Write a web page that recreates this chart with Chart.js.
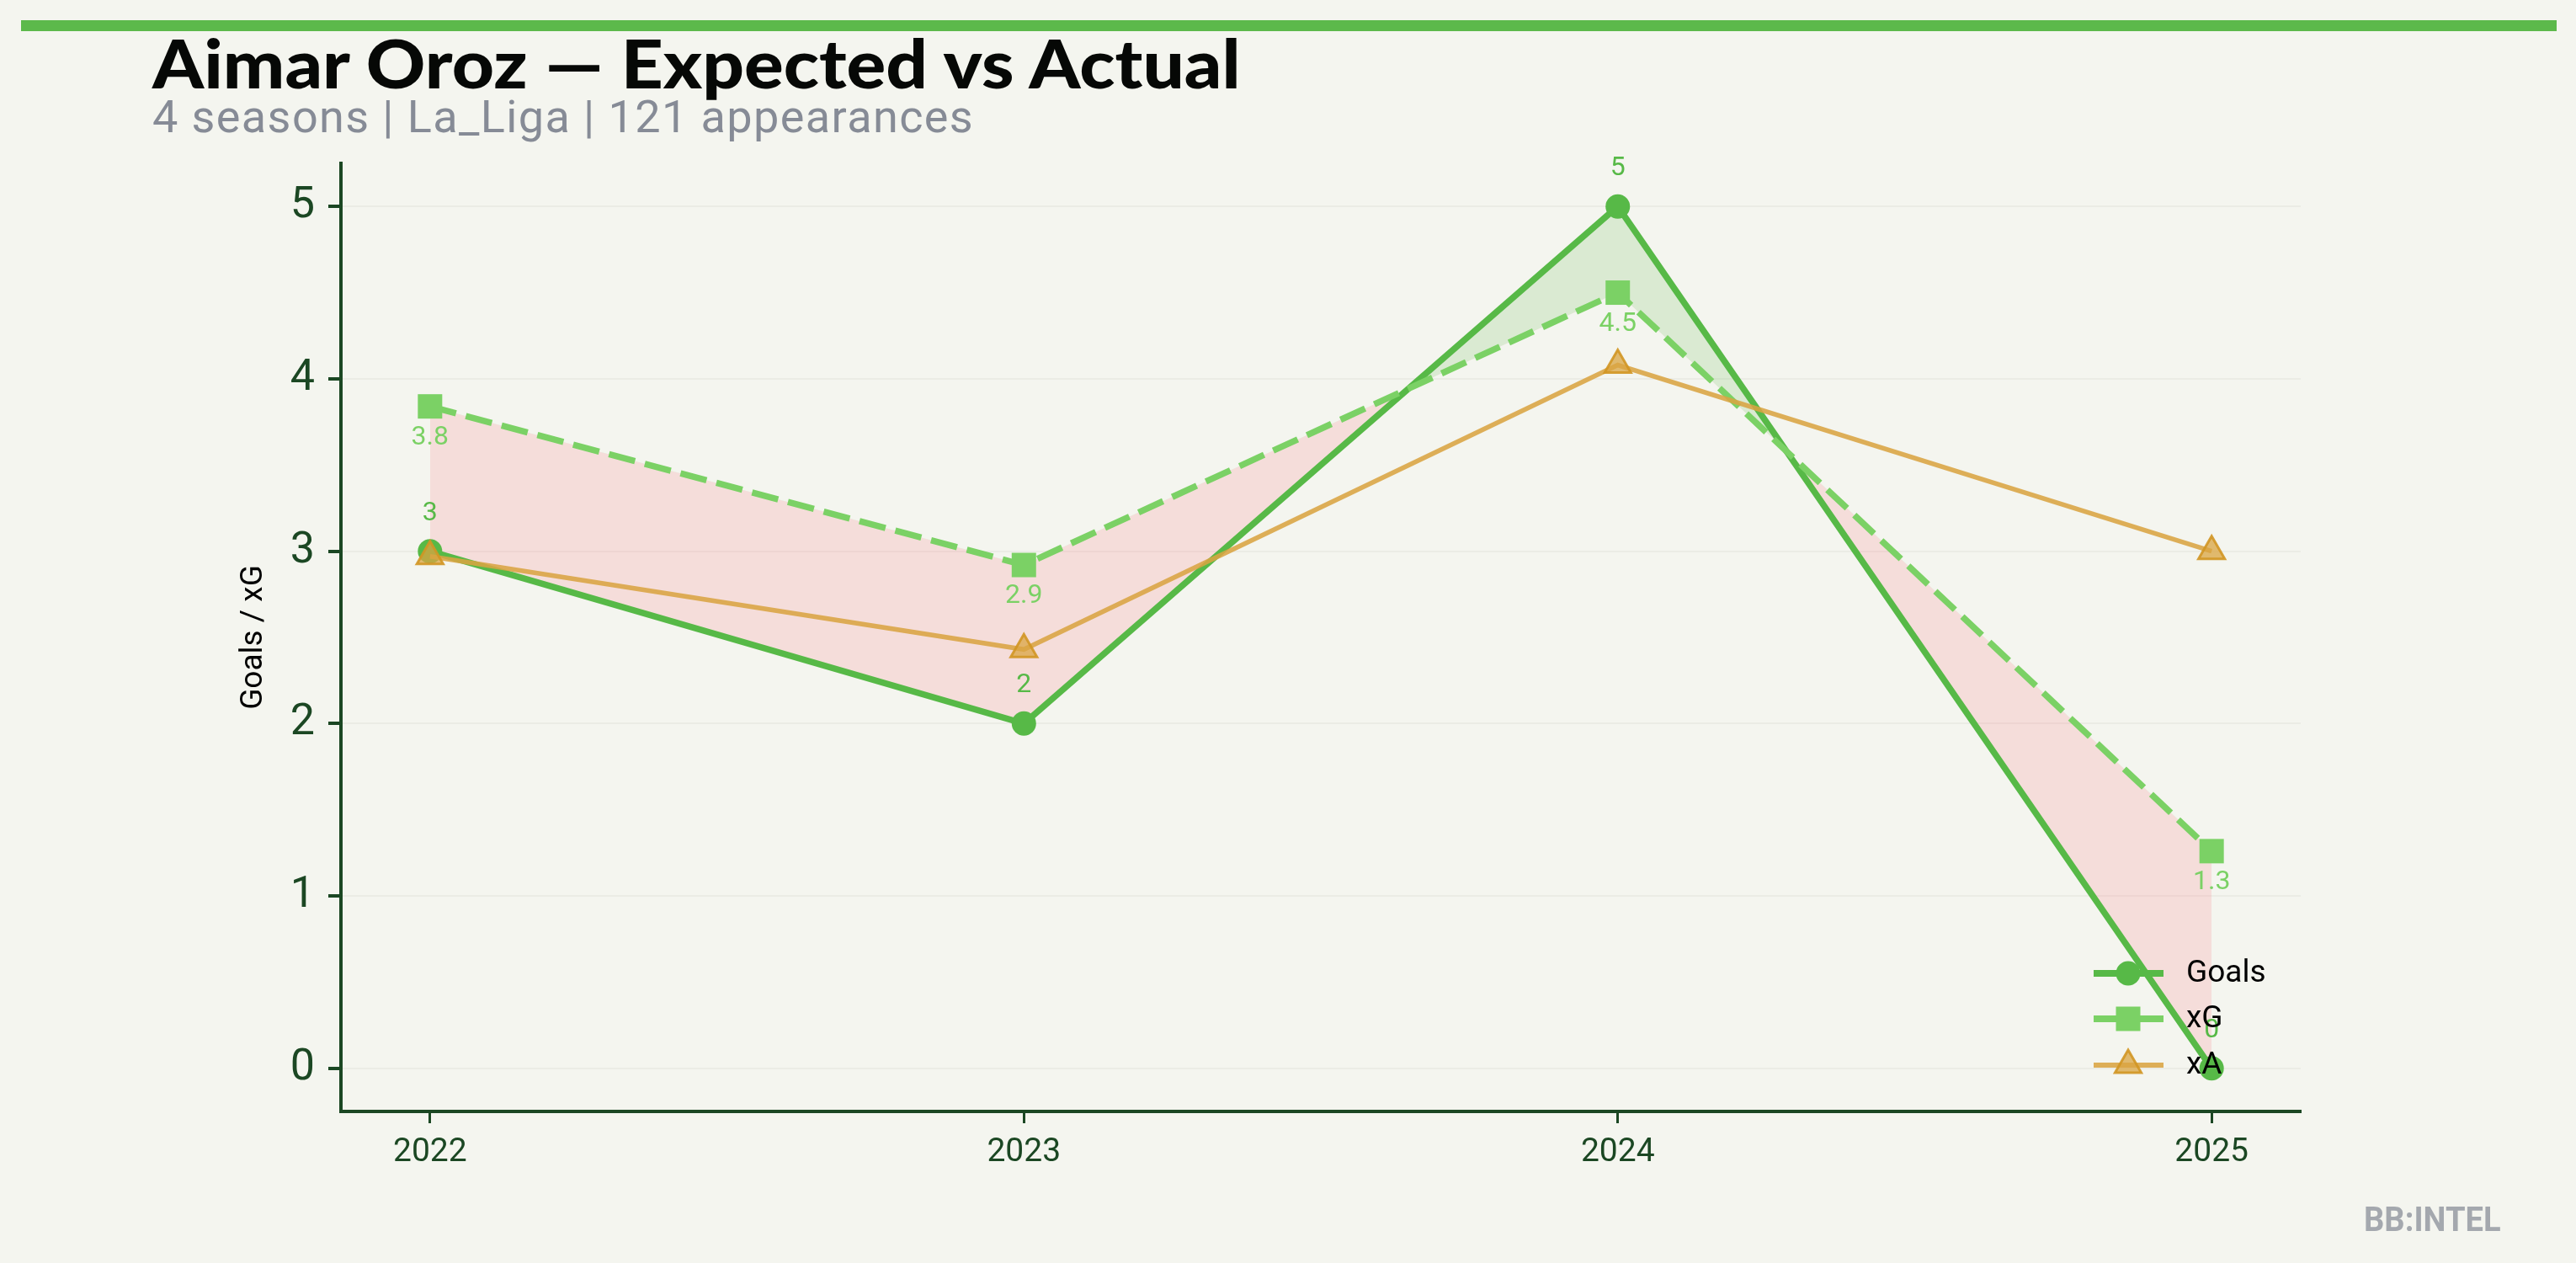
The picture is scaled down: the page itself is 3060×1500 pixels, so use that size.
<!DOCTYPE html>
<html>
<head>
<meta charset="utf-8">
<script src="https://cdn.jsdelivr.net/npm/chart.js@4.4.1/dist/chart.umd.min.js"></script>
<style>
  html, body { margin: 0; padding: 0; background: #f4f5ef; }
  #wrap { position: relative; width: 3060px; height: 1500px; overflow: hidden; }
  #bar { position: absolute; left: 25px; top: 24px; width: 3012px; height: 13px; background: #5cb94b; }
  #title { position: absolute; left: 181px; top: 34px; font-family: Lato, "Noto Sans", sans-serif; font-weight: 900;
           font-size: 80px; line-height: 80px; color: #060806; white-space: nowrap;
           transform: scaleX(1.09); transform-origin: left top; }
  #subtitle { position: absolute; left: 181px; top: 112px; font-family: Roboto, sans-serif; font-size: 54px;
              line-height: 54px; color: #868b96; white-space: nowrap; letter-spacing: 1.4px; }
  #mark { position: absolute; left: 2808px; top: 1428px; font-family: Roboto, sans-serif; font-weight: 700;
          font-size: 41px; line-height: 41px; color: #a4a8ae; white-space: nowrap;
          transform: scaleX(0.93); transform-origin: left top; }
  canvas { position: absolute; left: 0; top: 0; }
</style>
</head>
<body>
<div id="wrap">
  <canvas id="myChart" width="3060" height="1500"></canvas>
  <div id="bar"></div>
  <div id="title">Aimar Oroz — Expected vs Actual</div>
  <div id="subtitle">4 seasons | La_Liga | 121 appearances</div>
  <div id="mark">BB:INTEL</div>
</div>
<script>
// chart values
var seasons = [2022, 2023, 2024, 2025];
var goals = [3, 2, 5, 0];
var xg = [3.84, 2.92, 4.5, 1.26];
var xa = [2.97, 2.43, 4.08, 3.0];
var yTicks = [0, 1, 2, 3, 4, 5];
var seriesNames = ["Goals", "xG", "xA"];

var dark = '#1b4723';
var goalsColor = '#57b947';
var xgColor = '#7bd165';
var xaLine = 'rgba(217,164,66,0.88)';
var xaFill = 'rgba(217,164,66,0.75)';
var xaEdge = 'rgba(210,150,35,0.9)';

function toPoints(values) {
    var pts = [];
    for (var i = 0; i < seasons.length; i++) {
        pts.push({ x: seasons[i], y: values[i] });
    }
    return pts;
}

// value labels above goals points, below xG points
var valueLabels = {
    id: 'valueLabels',
    afterDatasetsDraw: function (chart) {
        var ctx = chart.ctx;
        ctx.save();
        ctx.font = '32px Roboto';
        ctx.textAlign = 'center';
        ctx.textBaseline = 'middle';
        var gMeta = chart.getDatasetMeta(0);
        gMeta.data.forEach(function (pt, i) {
            ctx.fillStyle = goalsColor;
            ctx.fillText(String(goals[i]), pt.x, pt.y - 45);
        });
        var xMeta = chart.getDatasetMeta(1);
        xMeta.data.forEach(function (pt, i) {
            ctx.fillStyle = xgColor;
            ctx.fillText(xg[i].toFixed(1), pt.x, pt.y + 37);
        });
        ctx.restore();
    }
};

// legend inside the plot, lower right
var innerLegend = {
    id: 'innerLegend',
    afterDraw: function (chart) {
        var ctx = chart.ctx;
        var x0 = 2487, x1 = 2570, mx = 2528, tx = 2597;
        var rows = [1156, 1210, 1265];
        ctx.save();
        for (var i = 0; i < 3; i++) {
            var y = rows[i];
            ctx.setLineDash([]);
            ctx.beginPath();
            ctx.moveTo(x0, y);
            ctx.lineTo(x1, y);
            if (i == 0) { ctx.strokeStyle = goalsColor; ctx.lineWidth = 8; }
            if (i == 1) { ctx.strokeStyle = xgColor; ctx.lineWidth = 8; }
            if (i == 2) { ctx.strokeStyle = xaLine; ctx.lineWidth = 6; }
            ctx.stroke();
            ctx.beginPath();
            if (i == 0) {
                ctx.fillStyle = goalsColor;
                ctx.arc(mx, y, 14.5, 0, Math.PI * 2);
                ctx.fill();
            } else if (i == 1) {
                ctx.fillStyle = xgColor;
                ctx.fillRect(mx - 14.5, y - 14.5, 29, 29);
            } else {
                ctx.fillStyle = xaFill;
                ctx.strokeStyle = xaEdge;
                ctx.lineWidth = 3;
                ctx.moveTo(mx, y - 18);
                ctx.lineTo(mx + 15.6, y + 9);
                ctx.lineTo(mx - 15.6, y + 9);
                ctx.closePath();
                ctx.fill();
                ctx.stroke();
            }
            ctx.fillStyle = '#000';
            ctx.font = '37px Roboto';
            ctx.textAlign = 'left';
            ctx.textBaseline = 'middle';
            ctx.fillText(seriesNames[i], tx, y + 1);
        }
        ctx.restore();
    }
};

var ctx = document.getElementById('myChart');
var myChart = new Chart(ctx, {
    type: 'line',
    data: {
        datasets: [{
            label: seriesNames[0],
            data: toPoints(goals),
            borderColor: goalsColor,
            backgroundColor: goalsColor,
            borderWidth: 7.5,
            pointStyle: 'circle',
            pointRadius: 14.5,
            pointBorderWidth: 0,
            tension: 0,
            order: 3,
            fill: { target: 1, above: 'rgba(87,185,71,0.17)', below: 'rgba(255,85,100,0.15)' }
        }, {
            label: seriesNames[1],
            data: toPoints(xg),
            borderColor: xgColor,
            backgroundColor: xgColor,
            borderWidth: 7.5,
            borderDash: [32, 12],
            pointStyle: 'rect',
            pointRadius: 20.5,
            pointBorderWidth: 0,
            tension: 0,
            order: 2,
            fill: false
        }, {
            label: seriesNames[2],
            data: toPoints(xa),
            borderColor: xaLine,
            backgroundColor: xaFill,
            pointBorderColor: xaEdge,
            borderWidth: 5.5,
            pointStyle: 'triangle',
            pointRadius: 18,
            pointBorderWidth: 3,
            tension: 0,
            order: 1,
            fill: false
        }]
    },
    options: {
        responsive: false,
        devicePixelRatio: 1,
        animation: false,
        layout: { padding: { left: 0, right: 327, top: 194, bottom: 0 } },
        plugins: {
            legend: { display: false },
            tooltip: { enabled: false }
        },
        scales: {
            x: {
                type: 'linear',
                min: 2021.85,
                max: 2025.15,
                afterBuildTicks: function (scale) {
                    scale.ticks = seasons.map(function (v) { return { value: v }; });
                },
                afterFit: function (scale) { scale.height = 180; },
                ticks: {
                    color: dark,
                    font: { family: 'Roboto', size: 39 },
                    padding: 12,
                    callback: function (v) { return String(v); }
                },
                grid: {
                    color: 'rgba(0,0,0,0)',
                    drawTicks: true,
                    tickLength: 14,
                    tickWidth: 3,
                    tickColor: dark
                },
                border: { display: true, color: dark, width: 4 }
            },
            y: {
                type: 'linear',
                min: -0.25,
                max: 5.25,
                afterBuildTicks: function (scale) {
                    scale.ticks = yTicks.map(function (v) { return { value: v }; });
                },
                afterFit: function (scale) { scale.width = 405; },
                ticks: {
                    color: dark,
                    font: { family: 'Roboto', size: 52 },
                    padding: 16,
                    callback: function (v) { return String(v); }
                },
                grid: {
                    color: '#ebece5',
                    lineWidth: 2,
                    drawTicks: true,
                    tickLength: 15,
                    tickWidth: 4,
                    tickColor: dark
                },
                border: { display: true, color: dark, width: 4 },
                title: {
                    display: true,
                    text: 'Goals / xG',
                    color: '#000',
                    font: { family: 'Roboto', size: 37 },
                    padding: { top: 280, bottom: 0 }
                }
            }
        }
    },
    plugins: [valueLabels, innerLegend]
});
</script>
</body>
</html>
